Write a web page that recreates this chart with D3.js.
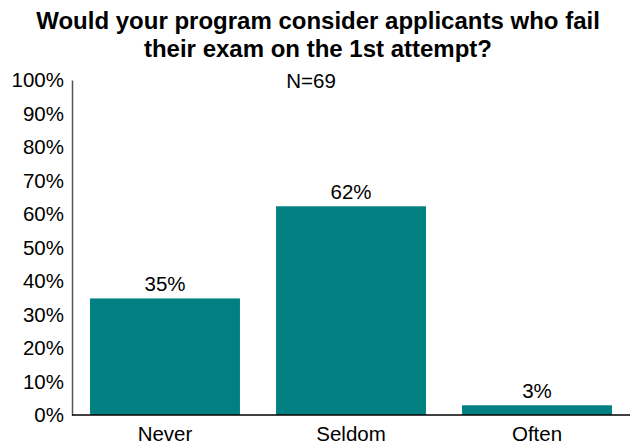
<!DOCTYPE html>
<html><head><meta charset="utf-8">
<script src="https://cdn.jsdelivr.net/npm/d3@7"></script>
<style>body{margin:0;background:#fff}svg{display:block;font-family:"Liberation Sans",Arial,sans-serif}</style>
</head><body><svg id="c" width="634" height="446"></svg>
<script>
const categories = ["Never", "Seldom", "Often"];
const values = [34.8, 62.3, 2.9];
const valueLabels = ["35%", "62%", "3%"];
const yTicks = [0, 10, 20, 30, 40, 50, 60, 70, 80, 90, 100];
const titleLines = ["Would your program consider applicants who fail", "their exam on the 1st attempt?"];
const note = "N=69";

const svg = d3.select("#c");
const m = {left: 72, right: 4, top: 80, bottom: 31};
const W = 634, H = 446;
const FS = 20.5;
const x = d3.scaleBand().domain(categories).range([m.left, W - m.right]).paddingInner(0.194).paddingOuter(0.097);
const y = d3.scaleLinear().domain([0, 100]).range([H - m.bottom, m.top]);

svg.selectAll("rect.bar").data(values).join("rect").attr("class", "bar")
  .attr("x", (d, i) => x(categories[i])).attr("width", x.bandwidth())
  .attr("y", d => y(d)).attr("height", d => y(0) - y(d)).attr("fill", "#008080");

const ya = svg.append("g").attr("transform", `translate(${m.left},0)`)
  .call(d3.axisLeft(y).tickValues(yTicks).tickSize(0).tickPadding(8).tickFormat(d => d + "%"));
ya.select(".domain").attr("stroke", "#555").attr("stroke-width", 1.5);
ya.selectAll("text").attr("font-size", FS).attr("fill", "#000").attr("font-family", "Liberation Sans, Arial, sans-serif");

const xa = svg.append("g").attr("transform", `translate(0,${y(0)})`)
  .call(d3.axisBottom(x).tickSize(0).tickPadding(11));
xa.select(".domain").attr("stroke", "#000").attr("stroke-width", 1.5).attr("d", `M${m.left},0H${W - m.right}`);
xa.selectAll("text").attr("font-size", FS).attr("fill", "#000").attr("font-family", "Liberation Sans, Arial, sans-serif");

svg.selectAll("text.val").data(values).join("text").attr("class", "val")
  .attr("x", (d, i) => x(categories[i]) + x.bandwidth() / 2).attr("y", d => y(d) - 7)
  .attr("text-anchor", "middle").attr("font-size", FS).text((d, i) => valueLabels[i]);

svg.selectAll("text.title").data(titleLines).join("text").attr("class", "title")
  .attr("x", 318).attr("y", (d, i) => 29 + i * 28).attr("text-anchor", "middle")
  .attr("font-size", 24).attr("font-weight", "bold").text(d => d);

svg.append("text").attr("x", 311).attr("y", 88).attr("text-anchor", "middle").attr("font-size", FS).text(note);
</script></body></html>
